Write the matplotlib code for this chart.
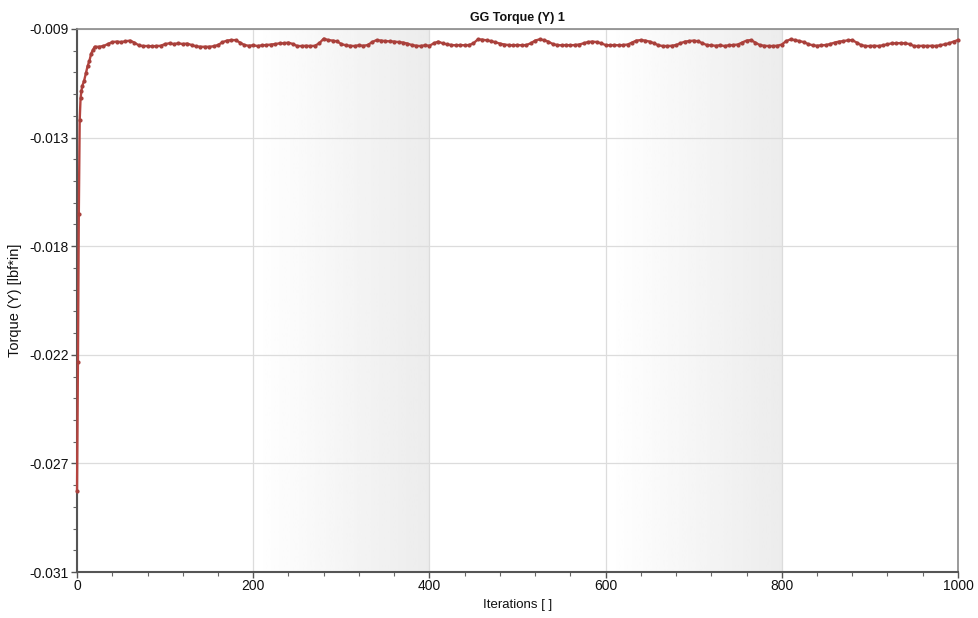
import numpy as np
import matplotlib.pyplot as plt
from matplotlib.ticker import FixedLocator, MultipleLocator

plt.rcParams['font.family'] = ['Liberation Sans', 'DejaVu Sans']

# data
start_iters = [0, 1, 2, 3, 4, 5, 6, 8, 10, 12, 14, 16, 18]
start_torque = [-0.02770, -0.02250, -0.01650, -0.01270, -0.01180, -0.01150, -0.01130,
                -0.01110, -0.01080, -0.01050, -0.01030, -0.01000, -0.00985]

plateau_iters = np.arange(20, 1001, 5)
plateau_torque = [
    -0.00972, -0.00972, -0.00969, -0.00961, -0.00953, -0.00951, -0.00953, -0.00950, -0.00947, -0.00955,  # 20-65
    -0.00966, -0.00969, -0.00969, -0.00970, -0.00969, -0.00968, -0.00961, -0.00958, -0.00961, -0.00958,  # 70-115
    -0.00961, -0.00959, -0.00965, -0.00970, -0.00972, -0.00972, -0.00972, -0.00970, -0.00965, -0.00954,  # 120-165
    -0.00947, -0.00945, -0.00945, -0.00955, -0.00965, -0.00968, -0.00966, -0.00969, -0.00966, -0.00965,  # 170-215
    -0.00963, -0.00961, -0.00958, -0.00958, -0.00955, -0.00961, -0.00969, -0.00969, -0.00968, -0.00969,  # 220-265
    -0.00968, -0.00958, -0.00939, -0.00945, -0.00947, -0.00950, -0.00961, -0.00966, -0.00968, -0.00969,  # 270-315
    -0.00966, -0.00968, -0.00965, -0.00953, -0.00945, -0.00947, -0.00949, -0.00950, -0.00951, -0.00953,  # 320-365
    -0.00955, -0.00959, -0.00965, -0.00968, -0.00969, -0.00966, -0.00968, -0.00958, -0.00951, -0.00958,  # 370-415
    -0.00962, -0.00965, -0.00966, -0.00965, -0.00966, -0.00965, -0.00958, -0.00942, -0.00943, -0.00946,  # 420-465
    -0.00949, -0.00954, -0.00959, -0.00963, -0.00965, -0.00966, -0.00965, -0.00966, -0.00965, -0.00958,  # 470-515
    -0.00947, -0.00942, -0.00945, -0.00951, -0.00961, -0.00965, -0.00966, -0.00965, -0.00966, -0.00965,  # 520-565
    -0.00963, -0.00958, -0.00953, -0.00951, -0.00953, -0.00958, -0.00965, -0.00966, -0.00965, -0.00966,  # 570-615
    -0.00965, -0.00963, -0.00955, -0.00947, -0.00945, -0.00947, -0.00951, -0.00958, -0.00966, -0.00969,  # 620-665
    -0.00969, -0.00968, -0.00965, -0.00958, -0.00951, -0.00949, -0.00947, -0.00950, -0.00958, -0.00965,  # 670-715
    -0.00966, -0.00968, -0.00966, -0.00969, -0.00966, -0.00965, -0.00963, -0.00955, -0.00947, -0.00945,  # 720-765
    -0.00955, -0.00965, -0.00968, -0.00969, -0.00969, -0.00968, -0.00963, -0.00949, -0.00942, -0.00945,  # 770-815
    -0.00949, -0.00953, -0.00961, -0.00966, -0.00968, -0.00966, -0.00965, -0.00961, -0.00955, -0.00951,  # 820-865
    -0.00949, -0.00946, -0.00945, -0.00955, -0.00965, -0.00969, -0.00969, -0.00968, -0.00969, -0.00966,  # 870-915
    -0.00962, -0.00958, -0.00958, -0.00957, -0.00958, -0.00961, -0.00969, -0.00969, -0.00968, -0.00969,  # 920-965
    -0.00968, -0.00969, -0.00966, -0.00962, -0.00958, -0.00951, -0.00945,                                  # 970-1000
]

iters = np.concatenate([start_iters, plateau_iters])
torque = np.concatenate([start_torque, plateau_torque])

y_ticks = [-0.031, -0.0266, -0.0222, -0.0178, -0.0134, -0.009]
y_labels = ['-0.031', '-0.027', '-0.022', '-0.018', '-0.013', '-0.009']
x_ticks = [0, 200, 400, 600, 800, 1000]
shaded_bands = [(200, 400), (600, 800)]

fig = plt.figure(figsize=(9.79, 6.18), dpi=100)
ax = fig.add_axes([0.0787, 0.0744, 0.8998, 0.8787])
ax.set_xlim(0, 1000)
ax.set_ylim(-0.031, -0.009)

# gradient shaded bands
grad = np.linspace(1.0, 0.925, 64).reshape(1, -1)
for x0, x1 in shaded_bands:
    ax.imshow(grad, extent=(x0, x1, -0.031, -0.009), aspect='auto', cmap='gray',
              vmin=0, vmax=1, zorder=0, interpolation='bilinear')

ax.set_xticks(x_ticks)
ax.set_yticks(y_ticks)
ax.set_yticklabels(y_labels)
ax.xaxis.set_minor_locator(MultipleLocator(40))
ax.yaxis.set_minor_locator(FixedLocator(np.linspace(-0.031, -0.009, 26)))
ax.grid(True, which='major', color='#dcdcdc', linewidth=0.9, zorder=1)
ax.set_axisbelow(True)

ax.tick_params(which='major', length=4, width=1, color='#555555', labelsize=10,
               labelcolor='#111111', pad=2)
ax.tick_params(which='minor', length=3, width=0.8, color='#666666')
ax.tick_params(axis='x', pad=1)

for side in ['left', 'bottom']:
    ax.spines[side].set_color('#555555')
    ax.spines[side].set_linewidth(1.5)
for side in ['top', 'right']:
    ax.spines[side].set_color('#8a8a8a')
    ax.spines[side].set_linewidth(1.2)

ax.plot(iters, torque, color='#b5443f', linewidth=1.7, marker='o', markersize=2.0,
        markerfacecolor='#a8403b', markeredgecolor='#a8403b', zorder=3, clip_on=False)

ax.set_title('GG Torque (Y) 1', fontsize=9, fontweight='bold', color='#111111', pad=6)
ax.set_xlabel('Iterations [ ]', fontsize=9.5, color='#111111', labelpad=4)
ax.set_ylabel('Torque (Y) [lbf*in]', fontsize=10.5, color='#111111', labelpad=5)

fig.savefig('out.png', dpi=100)
